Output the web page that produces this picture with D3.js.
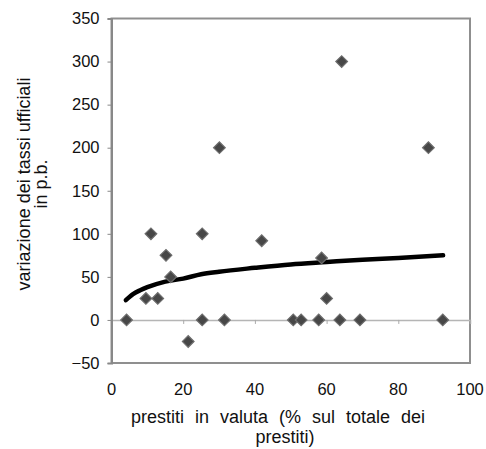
<!DOCTYPE html>
<html>
<head>
<meta charset="utf-8">
<script src="https://cdn.jsdelivr.net/npm/d3@7"></script>
<style>
  body { margin: 0; background: #fff; }
  text { font-family: Arial, "Liberation Sans", sans-serif; fill: #111; }
</style>
</head>
<body>
<div id="chart"></div>
<script>
// scatter points: prestiti in valuta (%) vs variazione tassi (p.b.)
var pointX = [4.2, 9.6, 11, 12.9, 15.2, 16.5, 21.4, 25.3, 25.3, 30.1, 31.5,
              41.9, 50.7, 52.9, 57.8, 58.6, 60, 63.7, 64.2, 69.3, 88.4, 92.4];
var pointY = [0, 25, 100, 25, 75, 50, -25, 0, 100, 200, 0,
              92, 0, 0, 0, 72, 25, 0, 300, 0, 200, 0];

// trend line
var trendX = [4, 6, 8, 10, 15, 20, 25, 30, 40, 50, 60, 70, 80, 92.5];
var trendY = [23, 30, 34.5, 38, 44.5, 48, 53, 56, 60.5, 64.5, 67.3, 70, 72, 75];

var xTicks = [0, 20, 40, 60, 80, 100];
var yTicks = [-50, 0, 50, 100, 150, 200, 250, 300, 350];

var width = 486, height = 449;
var plot = {left: 111.5, right: 470, top: 18.5, bottom: 363};

var svg = d3.select("#chart").append("svg")
  .attr("width", width)
  .attr("height", height);

svg.append("rect")
  .attr("width", width)
  .attr("height", height)
  .attr("fill", "#fff");

var x = d3.scaleLinear().domain([0, 100]).range([plot.left, plot.right]);
var y = d3.scaleLinear().domain([-50, 350]).range([plot.bottom, plot.top]);

// plot frame
svg.append("rect")
  .attr("x", plot.left)
  .attr("y", plot.top)
  .attr("width", plot.right - plot.left)
  .attr("height", plot.bottom - plot.top)
  .attr("fill", "none")
  .attr("stroke", "#8f8f8f")
  .attr("stroke-width", 2);

// x axis sits on y = 0
var xAxis = d3.axisBottom(x).tickValues(xTicks).tickSize(4).tickFormat("");
var gx = svg.append("g")
  .attr("transform", "translate(0," + y(0) + ")")
  .call(xAxis);
gx.select(".domain").attr("stroke", "#b5b5b5").attr("stroke-width", 1.5);
gx.selectAll(".tick line").attr("stroke", "#aaa");

// x tick labels below the plot
svg.append("g").selectAll("text")
  .data(xTicks)
  .enter().append("text")
  .attr("x", function(d) { return x(d); })
  .attr("y", 395)
  .attr("text-anchor", "middle")
  .style("font-size", "16.5px")
  .text(function(d) { return d; });

// y axis
var yAxis = d3.axisLeft(y).tickValues(yTicks).tickSize(4).tickPadding(8);
var gy = svg.append("g")
  .attr("transform", "translate(" + plot.left + ",0)")
  .call(yAxis);
gy.select(".domain").attr("stroke", "#888").attr("stroke-width", 2);
gy.selectAll(".tick line").attr("stroke", "#888");
gy.selectAll(".tick text")
  .attr("fill", "#111")
  .style("font-family", "Arial, 'Liberation Sans', sans-serif")
  .style("font-size", "16.5px");

// trend line
var line = d3.line()
  .x(function(d) { return x(d[0]); })
  .y(function(d) { return y(d[1]); })
  .curve(d3.curveMonotoneX);

svg.append("path")
  .datum(trendX.map(function(v, i) { return [v, trendY[i]]; }))
  .attr("d", line)
  .attr("fill", "none")
  .attr("stroke", "#000")
  .attr("stroke-width", 4.5)
  .attr("stroke-linecap", "round");

// diamonds
var diamond = d3.symbol().type(d3.symbolSquare).size(68);
svg.append("g").selectAll("path")
  .data(pointX.map(function(v, i) { return [v, pointY[i]]; }))
  .enter().append("path")
  .attr("d", diamond)
  .attr("transform", function(d) {
    return "translate(" + x(d[0]) + "," + y(d[1]) + ") rotate(45)";
  })
  .attr("fill", "#474747")
  .attr("stroke", "#6e6e6e")
  .attr("stroke-width", 1.2);

// axis titles
var xTitle = svg.append("text")
  .attr("text-anchor", "middle")
  .style("font-size", "18px")
  .style("word-spacing", "6px");
xTitle.append("tspan").attr("x", 278).attr("y", 423).text("prestiti in valuta (% sul totale dei");
xTitle.append("tspan").attr("x", 285).attr("y", 443).text("prestiti)");

var yTitle = svg.append("text")
  .attr("text-anchor", "middle")
  .attr("transform", "translate(0,184) rotate(-90)")
  .style("font-size", "18px");
yTitle.append("tspan").attr("x", 0).attr("y", 30).text("variazione dei tassi ufficiali");
yTitle.append("tspan").attr("x", 0).attr("y", 47).text("in p.b.");
</script>
</body>
</html>
